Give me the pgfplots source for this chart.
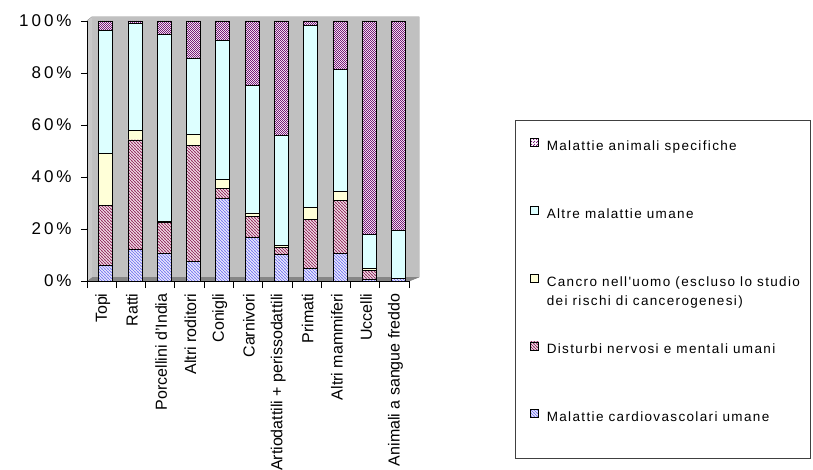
\documentclass[border=0pt]{standalone}
\usepackage{fontspec}
\setmainfont{Liberation Sans}
\newfontfamily\yfont[LetterSpace=18]{Liberation Sans}
\newfontfamily\legfont[LetterSpace=10]{Liberation Sans}
\usepackage{pgfplots}
\usepackage{pgfplotstable}
\pgfplotsset{compat=1.18}
\usetikzlibrary{patterns}

\definecolor{cardio}{HTML}{8080F0}
\definecolor{nervi}{HTML}{993366}
\definecolor{cancro}{HTML}{FFFFD8}
\definecolor{altre}{HTML}{DDFFFF}
\definecolor{animali}{HTML}{7A1A7A}
\definecolor{wall}{HTML}{C0C0C0}
\definecolor{frame}{HTML}{808080}

% fine diagonal hatching and a small checkerboard
\pgfdeclarepatternformonly{diagfine}{\pgfqpoint{-1bp}{-1bp}}{\pgfqpoint{4bp}{4bp}}{\pgfqpoint{3bp}{3bp}}{%
  \pgfsetlinewidth{0.9bp}%
  \pgfpathmoveto{\pgfqpoint{-0.5bp}{3.5bp}}\pgfpathlineto{\pgfqpoint{3.5bp}{-0.5bp}}%
  \pgfusepath{stroke}}
\pgfdeclarepatternformonly{checkfine}{\pgfqpoint{0bp}{0bp}}{\pgfqpoint{2.4bp}{2.4bp}}{\pgfqpoint{2.4bp}{2.4bp}}{%
  \pgfpathrectangle{\pgfqpoint{0bp}{0bp}}{\pgfqpoint{1.2bp}{1.2bp}}%
  \pgfpathrectangle{\pgfqpoint{1.2bp}{1.2bp}}{\pgfqpoint{1.2bp}{1.2bp}}%
  \pgfusepath{fill}}

% percentages per research area (each row sums to 100)
% c: cardiovascolari, d: nervosi e mentali, k: cancro, a: altre, m: animali
\pgfplotstableread{
x  c     d     k    a     m
0  6.0   23.0  20.0 47.5  3.5
1  12.0  42.3  3.5  41.4  0.8
2  10.5  12.0  0.3  72.0  5.2
3  7.5   44.7  4.1  29.5  14.2
4  31.8  3.9   3.4  53.4  7.5
5  16.7  8.2   1.3  48.9  24.9
6  10.2  2.6   0.9  42.2  44.1
7  4.9   18.9  4.5  70.0  1.7
8  10.7  20.4  3.3  46.9  18.7
9  0.8   3.2   0.7  13.1  82.2
10 0.9   0.1   0.1  18.3  80.6
}\dati

\pgfplotsset{
  base/.style={
    scale only axis, width=322bp, height=260bp,
    xmin=-0.5, xmax=10.5, ymin=0, ymax=100,
    ybar stacked, bar width=14bp, bar shift=4bp, clip=false,
  },
  sCardio/.style={fill=white, postaction={pattern=diagfine, pattern color=cardio}},
  sNervi/.style={fill=white, postaction={pattern=diagfine, pattern color=nervi}},
  sCancro/.style={fill=cancro},
  sAltre/.style={fill=altre},
  sAnimali/.style={fill=white, postaction={pattern=checkfine, pattern color=animali}},
}

\begin{document}
\begin{tikzpicture}
\clip (0,0) rectangle (813bp,470bp);
\path (0,0) rectangle (813bp,470bp);

% back layer: walls, floor, grid and the shaded sides of the columns
\begin{axis}[base, at={(90bp,191bp)}, anchor=south west, hide axis]
  \fill[wall!85!white] ([xshift=-3bp,yshift=-2bp]axis cs:-0.5,0) -- ([xshift=-3bp,yshift=-2bp]axis cs:-0.5,100)
     -- ([xshift=2bp,yshift=2bp]axis cs:-0.5,100) -- ([xshift=2bp,yshift=2bp]axis cs:-0.5,0) -- cycle;
  \fill[wall] ([xshift=2bp,yshift=2bp]axis cs:-0.5,0) rectangle ([xshift=7bp,yshift=2bp]axis cs:10.5,100);
  \fill[wall!70!black] ([xshift=-3bp,yshift=-2bp]axis cs:-0.5,0) -- ([xshift=-3bp,yshift=-2bp]axis cs:10.5,0)
     -- ([xshift=7bp,yshift=2bp]axis cs:10.5,0) -- ([xshift=2bp,yshift=2bp]axis cs:-0.5,0) -- cycle;
  \pgfplotsinvokeforeach{20,40,60,80}{
    \draw[black!85, line width=0.8bp] ([xshift=2bp,yshift=2bp]axis cs:-0.5,#1) -- ([xshift=7bp,yshift=2bp]axis cs:10.5,#1);
    \draw[black!85, line width=0.8bp] ([xshift=-3bp,yshift=-2bp]axis cs:-0.5,#1) -- ([xshift=2bp,yshift=2bp]axis cs:-0.5,#1);
  }
  \draw[frame, line width=0.8bp] ([xshift=-3bp,yshift=-2bp]axis cs:-0.5,100) -- ([xshift=2bp,yshift=2bp]axis cs:-0.5,100)
     -- ([xshift=7bp,yshift=2bp]axis cs:10.5,100) -- ([xshift=7bp,yshift=2bp]axis cs:10.5,0) -- ([xshift=-3bp,yshift=-2bp]axis cs:10.5,0);
  \addplot[fill=cardio!45!black, draw=black, line width=0.4bp] table[x=x,y=c]{\dati};
  \addplot[fill=nervi!60!black, draw=black, line width=0.4bp] table[x=x,y=d]{\dati};
  \addplot[fill=cancro!60!black, draw=black, line width=0.4bp] table[x=x,y=k]{\dati};
  \addplot[fill=altre!55!black, draw=black, line width=0.4bp] table[x=x,y=a]{\dati};
  \addplot[fill=animali!70!black, draw=black, line width=0.4bp] table[x=x,y=m]{\dati};
\end{axis}

% front layer: faces of the columns, axes and legend
\begin{axis}[base, at={(87bp,189bp)}, anchor=south west,
  axis x line*=bottom, axis y line*=left,
  axis line style={black, line width=0.8bp, -},
  tick align=outside, tick style={black, line width=0.8bp},
  ytick={0,20,40,60,80,100},
  yticklabels={0\,\%,20\,\%,40\,\%,60\,\%,80\,\%,100\,\%},
  yticklabel style={font=\yfont\fontsize{17bp}{20bp}\selectfont, xshift=-6bp},
  major tick length=6bp,
  xtick={0,...,10}, major x tick style={draw=none},
  minor xtick={-0.5,0.5,...,10.5}, minor tick length=7bp,
  xticklabels={Topi,Ratti,Porcellini d'India,Altri roditori,Conigli,Carnivori,Artiodattili + perissodattili,Primati,Altri mammiferi,Uccelli,Animali a sangue freddo},
  xticklabel style={rotate=90, anchor=east, font=\fontsize{16bp}{18bp}\selectfont, yshift=-1bp, xshift=-3bp},
  legend image code/.code={\draw[#1, draw=black, line width=0.6bp] (0bp,0bp) rectangle (8bp,8bp);},
  reverse legend,
  legend cell align=left,
  legend style={at={(rel axis cs:1.3758,0.55)}, anchor=north west, draw=none, fill=none,
    inner sep=0pt, row sep=52.5bp, font=\legfont\fontsize{13.5bp}{20bp}\selectfont,
    nodes={inner sep=0pt, text height=11bp, text depth=3bp},
    /tikz/every odd column/.append style={column sep=8bp}},
]
  \addplot[sCardio, draw=black, line width=0.6bp] table[x=x,y=c]{\dati};
  \addlegendentry{Malattie cardiovascolari umane}
  \addplot[sNervi, draw=black, line width=0.6bp] table[x=x,y=d]{\dati};
  \addlegendentry{Disturbi nervosi e mentali umani}
  \addplot[sCancro, draw=black, line width=0.6bp] table[x=x,y=k]{\dati};
  \addlegendentry{\raisebox{0pt}[11bp][3bp]{\begin{tabular}[t]{@{}l@{}}Cancro nell'uomo (escluso lo studio\\[-1bp]dei rischi di cancerogenesi)\end{tabular}}}
  \addplot[sAltre, draw=black, line width=0.6bp] table[x=x,y=a]{\dati};
  \addlegendentry{Altre malattie umane}
  \addplot[sAnimali, draw=black, line width=0.6bp] table[x=x,y=m]{\dati};
  \addlegendentry{Malattie animali specifiche}
  \draw[black!75, line width=1bp] (rel axis cs:1.3292,0.6192) rectangle (rel axis cs:2.2484,-0.6808);
\end{axis}
\end{tikzpicture}
\end{document}
